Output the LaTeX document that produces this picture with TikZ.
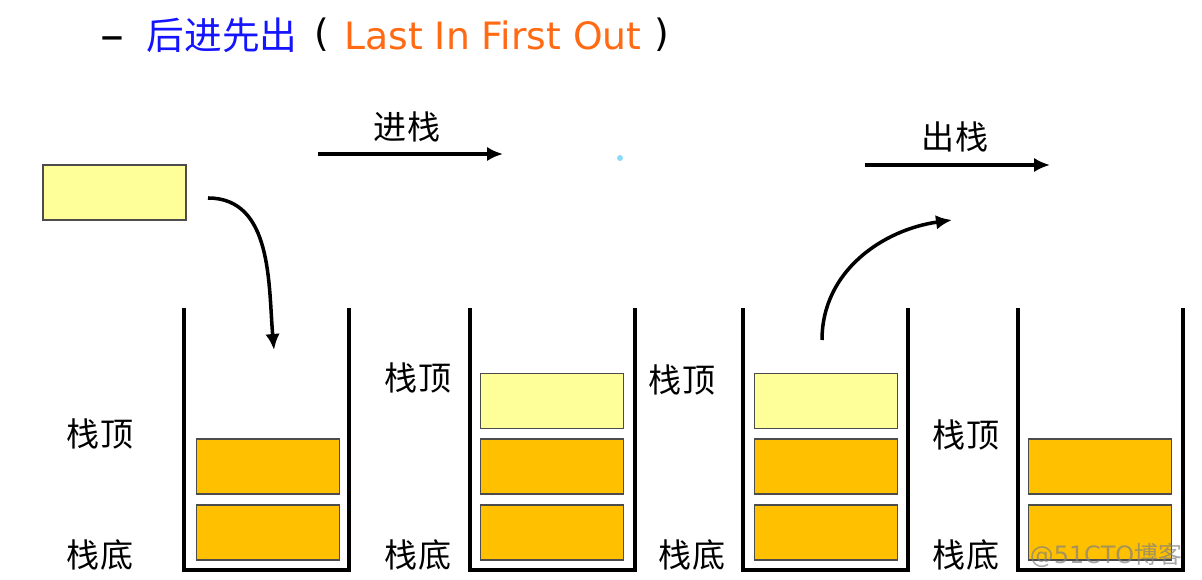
\documentclass[tikz,border=0pt]{standalone}
\usepackage{fontspec}
\setmainfont{DejaVu Sans}
\newfontfamily\cjk{Noto Sans CJK SC}
\usetikzlibrary{arrows.meta}

\definecolor{lifoblue}{HTML}{1414FF}
\definecolor{lifoorange}{HTML}{FF6A13}
\definecolor{itemgold}{HTML}{FFC000}
\definecolor{itempale}{HTML}{FFFF99}

\tikzset{
  titletext/.style={font=\fontsize{26.8pt}{32pt}\selectfont, inner sep=0pt},
  titlecjk/.style={font=\cjk\fontsize{26.8pt}{32pt}\selectfont, inner sep=0pt},
  stacklabel/.style={font=\cjk\fontsize{23.5pt}{28pt}\selectfont, inner sep=0pt},
  wall/.style={line width=3.2pt},
  item/.style={draw=black!70, line width=0.9pt, minimum width=3.575cm,
    minimum height=1.375cm, inner sep=0pt},
  olditem/.style={item, fill=itemgold},
  newitem/.style={item, fill=itempale},
  moving/.style={line width=2.5pt, -{Latex[length=4mm,width=3.6mm]}},
}

\begin{document}
\begin{tikzpicture}[x=0.025cm, y=0.025cm]

  % Fix the frame to the size of the reference
  \useasboundingbox (0,0) rectangle (1202,579);

  % Title line
  \node[titletext, font=\fontsize{34pt}{40pt}\selectfont] (dash) at (112,535) {–};
  \node[titlecjk, text=lifoblue] (lifo) at (222,544) {后进先出};
  \node[titletext] (open) at (322,544) {(};
  \node[titletext, text=lifoorange] (lifoen) at (493,544) {Last In First Out};
  \node[titletext] (close) at (662,544) {)};

  % Draw the four stacks (open at the top)
  \foreach \x in {184,470,743,1018}
    \draw[wall] (\x,271) -- (\x,9) -- (\x+165,9) -- (\x+165,271);

  % The item waiting to be pushed
  \node[newitem] (incoming) at (114.5,386.5) {};

  % Stack 1: two items
  \node[olditem] (a1) at (268,46.5) {};
  \node[olditem] (a2) at (268,112.5) {};

  % Stack 2: after the push
  \node[olditem] (b1) at (552,46.5) {};
  \node[olditem] (b2) at (552,112.5) {};
  \node[newitem] (b3) at (552,178) {};

  % Stack 3: before the pop
  \node[olditem] (c1) at (826,46.5) {};
  \node[olditem] (c2) at (826,112.5) {};
  \node[newitem] (c3) at (826,178) {};

  % Stack 4: after the pop
  \node[olditem] (d1) at (1100,46.5) {};
  \node[olditem] (d2) at (1100,112.5) {};

  % Push: straight arrow with its label, and the curve into stack 1
  \coordinate (pushfrom) at (318,425);
  \coordinate (pushto) at (503,425);
  \draw[moving] (pushfrom) -- (pushto);
  \node[stacklabel] (pushlabel) at (407,452) {进栈};
  \coordinate (dropstart) at (208,381);
  \coordinate (dropend) at (274,229);
  \draw[moving] (dropstart) to[out=0, in=95] (dropend);

  % Pop: straight arrow with its label, and the curve out of stack 3
  \coordinate (popfrom) at (865,414);
  \coordinate (popto) at (1050,414);
  \draw[moving] (popfrom) -- (popto);
  \node[stacklabel] (poplabel) at (955,442) {出栈};
  \coordinate (liftstart) at (822,239);
  \coordinate (liftend) at (952,359);
  \draw[moving] (liftstart) to[out=90, in=188] (liftend);

  % Labels for top and bottom of each stack
  \node[stacklabel] (topa) at (100,145) {栈顶};
  \node[stacklabel] (bota) at (100,24) {栈底};
  \node[stacklabel] (topb) at (418,201) {栈顶};
  \node[stacklabel] (botb) at (418,24) {栈底};
  \node[stacklabel] (topc) at (682,199) {栈顶};
  \node[stacklabel] (botc) at (692,24) {栈底};
  \node[stacklabel] (topd) at (966,144) {栈顶};
  \node[stacklabel] (botd) at (966,24) {栈底};

  % Stray dot and watermark
  \fill[cyan!45] (620,421) circle (3);
  \node[text=gray, opacity=0.7, font=\fontsize{17pt}{20pt}\selectfont, inner sep=0pt]
    (mark) at (1106,24) {@51CTO{\cjk 博客}};

\end{tikzpicture}
\end{document}
